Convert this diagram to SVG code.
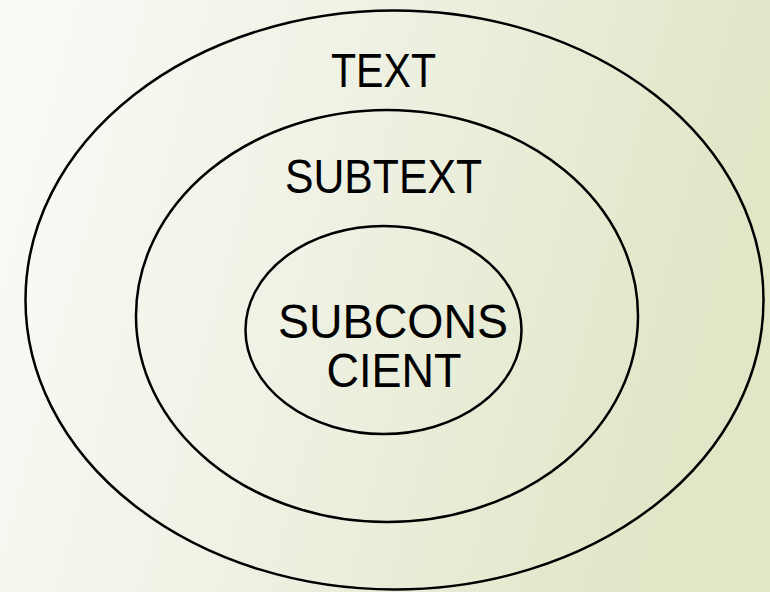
<svg xmlns="http://www.w3.org/2000/svg" width="770" height="592" viewBox="0 0 770 592">
  <defs>
    <linearGradient id="bg" x1="0" y1="0" x2="1" y2="0.2">
      <stop offset="0" stop-color="#fafbf8"/>
      <stop offset="0.5" stop-color="#eef1e2"/>
      <stop offset="1" stop-color="#e0e6c6"/>
    </linearGradient>
  </defs>
  <style>
    .ring { fill: none; stroke: #000; stroke-width: 2.5; }
    .lbl { font-family: "Liberation Sans", Arial, sans-serif; font-size: 49px; fill: #000; text-anchor: middle; }
  </style>
  <rect x="0" y="0" width="770" height="592" fill="url(#bg)"/>
  <g id="outer">
    <ellipse class="ring" cx="394.5" cy="300" rx="369" ry="289.5"/>
    <text class="lbl" x="383.5" y="87" textLength="105" lengthAdjust="spacingAndGlyphs">TEXT</text>
  </g>
  <g id="middle">
    <ellipse class="ring" cx="387" cy="316" rx="251" ry="206"/>
    <text class="lbl" x="383.5" y="193" textLength="197" lengthAdjust="spacingAndGlyphs">SUBTEXT</text>
  </g>
  <g id="inner">
    <ellipse class="ring" cx="383.5" cy="330" rx="138" ry="104"/>
    <text class="lbl" x="393" y="338" textLength="230" lengthAdjust="spacingAndGlyphs">SUBCONS</text>
    <text class="lbl" x="394" y="387" textLength="135" lengthAdjust="spacingAndGlyphs">CIENT</text>
  </g>
</svg>
